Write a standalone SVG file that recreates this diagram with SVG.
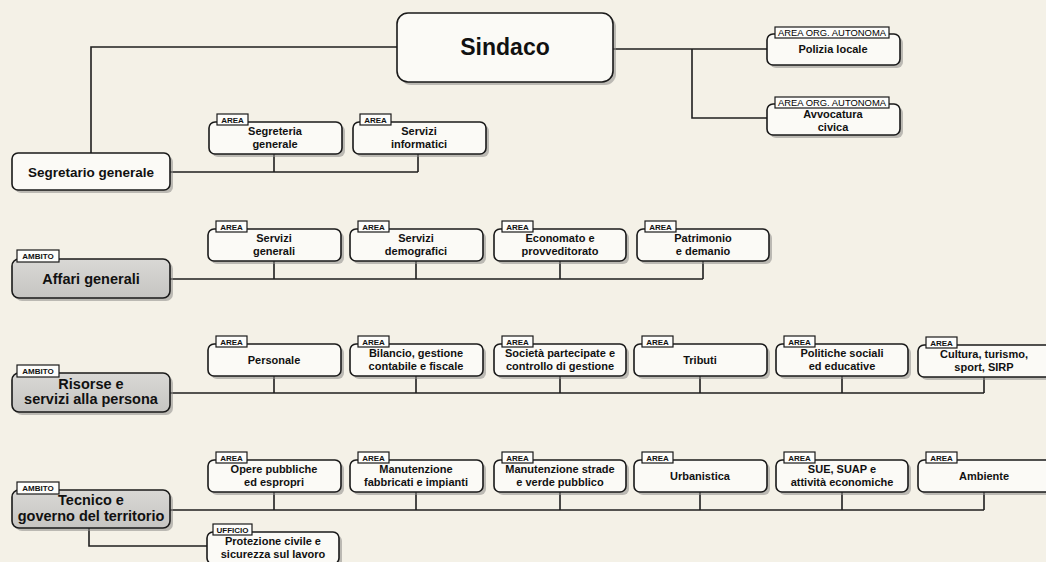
<svg xmlns="http://www.w3.org/2000/svg" width="1046" height="562" viewBox="0 0 1046 562">
<defs>
<linearGradient id="gr" x1="0" y1="0" x2="0" y2="1">
<stop offset="0" stop-color="#d9d8d5"/>
<stop offset="1" stop-color="#c6c5c2"/>
</linearGradient>
<style>
.bg{fill:#f4f1e7}
.box{fill:#fbfaf6;stroke:#1a1a1a;stroke-width:1.6}
.amb{fill:url(#gr);stroke:#1a1a1a;stroke-width:1.6}
.sh{fill:#8c8b88;opacity:.55}
.tag{fill:#fdfdfb;stroke:#1a1a1a;stroke-width:1.2}
.ln{fill:none;stroke:#1f1f1f;stroke-width:1.6}
text{font-family:"Liberation Sans",Arial,sans-serif;fill:#111;text-anchor:middle}
.t{font-size:11px;font-weight:bold}
.ta{font-size:14.5px;font-weight:bold}
.tg{font-size:8px;font-weight:bold}
.tgo{font-size:8.5px;fill:#000}
</style>
</defs>
<rect class="bg" x="0" y="0" width="1046" height="562"/>

<g id="connectors">
<path class="ln" d="M397,47 H91 V153"/>
<path class="ln" d="M613,49 H767 M692,49 V118 H767"/>
<path class="ln" d="M170,172 H418 M274,154 V172 M418,154 V172"/>
<path class="ln" d="M170,279 H703 M274,261 V279 M416,261 V279 M560,261 V279 M703,261 V279"/>
<path class="ln" d="M170,393 H984 M274,376 V393 M416,376 V393 M560,376 V393 M700,376 V393 M842,376 V393 M984,376 V393"/>
<path class="ln" d="M170,510 H984 M274,492 V510 M416,492 V510 M560,492 V510 M700,492 V510 M842,492 V510 M984,492 V510"/>
<path class="ln" d="M89,528 V546 H207"/>
</g>

<g id="sindaco">
<rect class="sh" x="400" y="16" width="216" height="69" rx="11"/>
<rect class="box" x="397" y="13" width="216" height="69" rx="11"/>
<text x="505" y="55" style="font-size:23px;font-weight:bold">Sindaco</text>
</g>

<g id="polizia">
<rect class="sh" x="770" y="37" width="133" height="31" rx="6"/>
<rect class="box" x="767" y="34" width="133" height="31" rx="6"/>
<rect class="tag" x="775" y="27" width="114" height="11"/>
<text class="tgo" x="832" y="35.5" textLength="108" lengthAdjust="spacingAndGlyphs">AREA ORG. AUTONOMA</text>
<text class="t" x="833" y="53">Polizia locale</text>
</g>

<g id="avvocatura">
<rect class="sh" x="770" y="107" width="133" height="31" rx="6"/>
<rect class="box" x="767" y="104" width="133" height="31" rx="6"/>
<rect class="tag" x="775" y="97" width="114" height="11"/>
<text class="tgo" x="832" y="105.5" textLength="108" lengthAdjust="spacingAndGlyphs">AREA ORG. AUTONOMA</text>
<text class="t" x="833" y="118">Avvocatura</text>
<text class="t" x="833" y="131">civica</text>
</g>

<g id="segretario">
<rect class="sh" x="15" y="156" width="158" height="37" rx="6"/>
<rect class="box" x="12" y="153" width="158" height="37" rx="6"/>
<text x="91" y="177" style="font-size:13.5px;font-weight:bold">Segretario generale</text>
</g>

<g id="segreteria">
<rect class="sh" x="212" y="125" width="133" height="32" rx="6"/>
<rect class="box" x="209" y="122" width="133" height="32" rx="6"/>
<rect class="tag" x="217" y="114" width="31" height="11"/>
<text class="tg" x="232.5" y="122.5">AREA</text>
<text class="t" x="275" y="135">Segreteria</text>
<text class="t" x="275" y="148">generale</text>
</g>

<g id="informatici">
<rect class="sh" x="356" y="125" width="133" height="32" rx="6"/>
<rect class="box" x="353" y="122" width="133" height="32" rx="6"/>
<rect class="tag" x="360" y="114" width="31" height="11"/>
<text class="tg" x="375.5" y="122.5">AREA</text>
<text class="t" x="419" y="135">Servizi</text>
<text class="t" x="419" y="148">informatici</text>
</g>

<g id="affari">
<rect class="sh" x="15" y="262" width="158" height="39" rx="7"/>
<rect class="amb" x="12" y="259" width="158" height="39" rx="7"/>
<rect class="tag" x="17" y="250" width="42" height="12"/>
<text class="tg" x="38" y="259">AMBITO</text>
<text class="ta" x="91" y="284">Affari generali</text>
</g>

<g id="serv-generali">
<rect class="sh" x="211" y="232" width="133" height="32" rx="6"/>
<rect class="box" x="208" y="229" width="133" height="32" rx="6"/>
<rect class="tag" x="216" y="221" width="31" height="11"/>
<text class="tg" x="231.5" y="229.5">AREA</text>
<text class="t" x="274" y="242">Servizi</text>
<text class="t" x="274" y="255">generali</text>
</g>

<g id="serv-demografici">
<rect class="sh" x="353" y="232" width="133" height="32" rx="6"/>
<rect class="box" x="350" y="229" width="133" height="32" rx="6"/>
<rect class="tag" x="358" y="221" width="31" height="11"/>
<text class="tg" x="373.5" y="229.5">AREA</text>
<text class="t" x="416" y="242">Servizi</text>
<text class="t" x="416" y="255">demografici</text>
</g>

<g id="economato">
<rect class="sh" x="497" y="232" width="132" height="32" rx="6"/>
<rect class="box" x="494" y="229" width="132" height="32" rx="6"/>
<rect class="tag" x="502" y="221" width="31" height="11"/>
<text class="tg" x="517.5" y="229.5">AREA</text>
<text class="t" x="560" y="242">Economato e</text>
<text class="t" x="560" y="255">provveditorato</text>
</g>

<g id="patrimonio">
<rect class="sh" x="640" y="232" width="132" height="32" rx="6"/>
<rect class="box" x="637" y="229" width="132" height="32" rx="6"/>
<rect class="tag" x="645" y="221" width="31" height="11"/>
<text class="tg" x="660.5" y="229.5">AREA</text>
<text class="t" x="703" y="242">Patrimonio</text>
<text class="t" x="703" y="255">e demanio</text>
</g>

<g id="risorse">
<rect class="sh" x="15" y="376" width="158" height="39" rx="7"/>
<rect class="amb" x="12" y="373" width="158" height="39" rx="7"/>
<rect class="tag" x="17" y="365" width="42" height="12"/>
<text class="tg" x="38" y="374">AMBITO</text>
<text class="ta" x="91" y="389">Risorse e</text>
<text class="ta" x="91" y="404">servizi alla persona</text>
</g>

<g id="personale">
<rect class="sh" x="211" y="347" width="133" height="32" rx="6"/>
<rect class="box" x="208" y="344" width="133" height="32" rx="6"/>
<rect class="tag" x="216" y="336" width="31" height="11"/>
<text class="tg" x="231.5" y="344.5">AREA</text>
<text class="t" x="274" y="364">Personale</text>
</g>

<g id="bilancio">
<rect class="sh" x="353" y="347" width="133" height="32" rx="6"/>
<rect class="box" x="350" y="344" width="133" height="32" rx="6"/>
<rect class="tag" x="358" y="336" width="31" height="11"/>
<text class="tg" x="373.5" y="344.5">AREA</text>
<text class="t" x="416" y="357">Bilancio, gestione</text>
<text class="t" x="416" y="370">contabile e fiscale</text>
</g>

<g id="societa">
<rect class="sh" x="497" y="347" width="132" height="32" rx="6"/>
<rect class="box" x="494" y="344" width="132" height="32" rx="6"/>
<rect class="tag" x="502" y="336" width="31" height="11"/>
<text class="tg" x="517.5" y="344.5">AREA</text>
<text class="t" x="560" y="357">Società partecipate e</text>
<text class="t" x="560" y="370">controllo di gestione</text>
</g>

<g id="tributi">
<rect class="sh" x="637" y="347" width="133" height="32" rx="6"/>
<rect class="box" x="634" y="344" width="133" height="32" rx="6"/>
<rect class="tag" x="642" y="336" width="31" height="11"/>
<text class="tg" x="657.5" y="344.5">AREA</text>
<text class="t" x="700" y="364">Tributi</text>
</g>

<g id="politiche">
<rect class="sh" x="779" y="347" width="132" height="32" rx="6"/>
<rect class="box" x="776" y="344" width="132" height="32" rx="6"/>
<rect class="tag" x="784" y="336" width="31" height="11"/>
<text class="tg" x="799.5" y="344.5">AREA</text>
<text class="t" x="842" y="357">Politiche sociali</text>
<text class="t" x="842" y="370">ed educative</text>
</g>

<g id="cultura">
<rect class="sh" x="921" y="348" width="140" height="32" rx="6"/>
<rect class="box" x="918" y="345" width="140" height="32" rx="6"/>
<rect class="tag" x="926" y="337" width="31" height="11"/>
<text class="tg" x="941.5" y="345.5">AREA</text>
<text class="t" x="984" y="358">Cultura, turismo,</text>
<text class="t" x="984" y="371">sport, SIRP</text>
</g>

<g id="tecnico">
<rect class="sh" x="15" y="493" width="158" height="38" rx="7"/>
<rect class="amb" x="12" y="490" width="158" height="38" rx="7"/>
<rect class="tag" x="17" y="482" width="42" height="12"/>
<text class="tg" x="38" y="491">AMBITO</text>
<text class="ta" x="91" y="505">Tecnico e</text>
<text class="ta" x="91" y="521">governo del territorio</text>
</g>

<g id="opere">
<rect class="sh" x="211" y="463" width="133" height="32" rx="6"/>
<rect class="box" x="208" y="460" width="133" height="32" rx="6"/>
<rect class="tag" x="216" y="452" width="31" height="11"/>
<text class="tg" x="231.5" y="460.5">AREA</text>
<text class="t" x="274" y="473">Opere pubbliche</text>
<text class="t" x="274" y="486">ed espropri</text>
</g>

<g id="fabbricati">
<rect class="sh" x="353" y="463" width="133" height="32" rx="6"/>
<rect class="box" x="350" y="460" width="133" height="32" rx="6"/>
<rect class="tag" x="358" y="452" width="31" height="11"/>
<text class="tg" x="373.5" y="460.5">AREA</text>
<text class="t" x="416" y="473">Manutenzione</text>
<text class="t" x="416" y="486">fabbricati e impianti</text>
</g>

<g id="strade">
<rect class="sh" x="497" y="463" width="132" height="32" rx="6"/>
<rect class="box" x="494" y="460" width="132" height="32" rx="6"/>
<rect class="tag" x="502" y="452" width="31" height="11"/>
<text class="tg" x="517.5" y="460.5">AREA</text>
<text class="t" x="560" y="473">Manutenzione strade</text>
<text class="t" x="560" y="486">e verde pubblico</text>
</g>

<g id="urbanistica">
<rect class="sh" x="637" y="463" width="133" height="32" rx="6"/>
<rect class="box" x="634" y="460" width="133" height="32" rx="6"/>
<rect class="tag" x="642" y="452" width="31" height="11"/>
<text class="tg" x="657.5" y="460.5">AREA</text>
<text class="t" x="700" y="480">Urbanistica</text>
</g>

<g id="sue">
<rect class="sh" x="779" y="463" width="132" height="32" rx="6"/>
<rect class="box" x="776" y="460" width="132" height="32" rx="6"/>
<rect class="tag" x="784" y="452" width="31" height="11"/>
<text class="tg" x="799.5" y="460.5">AREA</text>
<text class="t" x="842" y="473">SUE, SUAP e</text>
<text class="t" x="842" y="486">attività economiche</text>
</g>

<g id="ambiente">
<rect class="sh" x="921" y="463" width="140" height="32" rx="6"/>
<rect class="box" x="918" y="460" width="140" height="32" rx="6"/>
<rect class="tag" x="926" y="452" width="31" height="11"/>
<text class="tg" x="941.5" y="460.5">AREA</text>
<text class="t" x="984" y="480">Ambiente</text>
</g>

<g id="protezione">
<rect class="sh" x="210" y="535" width="132" height="32" rx="6"/>
<rect class="box" x="207" y="532" width="132" height="32" rx="6"/>
<rect class="tag" x="213" y="524" width="39" height="11"/>
<text class="tg" x="232.5" y="532.5">UFFICIO</text>
<text class="t" x="273" y="545">Protezione civile e</text>
<text class="t" x="273" y="558">sicurezza sul lavoro</text>
</g>
</svg>
